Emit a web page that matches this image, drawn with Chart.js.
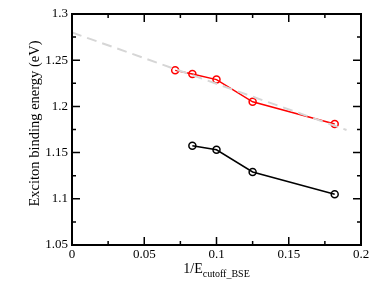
<!DOCTYPE html>
<html>
<head>
<meta charset="utf-8">
<script src="https://cdn.jsdelivr.net/npm/chart.js@4/dist/chart.umd.min.js"></script>
<style>
  html, body { margin: 0; padding: 0; background: #fff; }
  #wrap { width: 374px; height: 289px; }
</style>
</head>
<body>
<div id="wrap"><canvas id="c"></canvas></div>
<script>
// data
const redX = [0.0714, 0.0833, 0.1, 0.125, 0.1818];
const redY = [1.239, 1.235, 1.229, 1.205, 1.181];
const blackX = [0.0833, 0.1, 0.125, 0.1818];
const blackY = [1.1575, 1.153, 1.129, 1.105];
const fitX = [0, 0.19];
const fitY = [1.28, 1.1745];
const xTicks = [0, 0.05, 0.1, 0.15, 0.2];
const yTicks = [1.05, 1.1, 1.15, 1.2, 1.25, 1.3];

const serif = '"Liberation Serif", "DejaVu Serif", serif';
const toPts = (xs, ys) => xs.map((x, i) => ({ x: x, y: ys[i] }));

// frame, inward major/minor ticks and axis titles
const framePlugin = {
  id: 'frame',
  afterDatasetsDraw(chart) {
    const { ctx, chartArea: a, scales } = chart;
    const xs = scales.x, ys = scales.y;
    ctx.save();
    ctx.strokeStyle = '#000';
    ctx.lineWidth = 2;
    ctx.strokeRect(a.left, a.top, a.right - a.left, a.bottom - a.top);
    ctx.lineWidth = 1.5;
    ctx.beginPath();
    for (let v = 0; v <= 0.2001; v += 0.025) {
      const px = xs.getPixelForValue(v);
      const len = Math.abs(v / 0.05 - Math.round(v / 0.05)) < 1e-6 ? 8 : 4;
      ctx.moveTo(px, a.bottom); ctx.lineTo(px, a.bottom - len);
      ctx.moveTo(px, a.top); ctx.lineTo(px, a.top + len);
    }
    for (let v = 1.05; v <= 1.3001; v += 0.025) {
      const py = ys.getPixelForValue(v);
      const k = (v - 1.05) / 0.05;
      const len = Math.abs(k - Math.round(k)) < 1e-6 ? 8 : 4;
      ctx.moveTo(a.left, py); ctx.lineTo(a.left + len, py);
      ctx.moveTo(a.right, py); ctx.lineTo(a.right - len, py);
    }
    ctx.stroke();

    ctx.fillStyle = '#000';
    // y title
    ctx.save();
    ctx.translate(35, (a.top + a.bottom) / 2 - 6);
    ctx.rotate(-Math.PI / 2);
    ctx.font = '14.5px ' + serif;
    ctx.textAlign = 'center';
    ctx.textBaseline = 'middle';
    ctx.fillText('Exciton binding energy (eV)', 0, 0);
    ctx.restore();
    // x title with subscript
    ctx.font = '14px ' + serif;
    const main = '1/E';
    const sub = 'cutoff_BSE';
    const wMain = ctx.measureText(main).width;
    ctx.font = '10px ' + serif;
    const wSub = ctx.measureText(sub).width;
    const cx = (a.left + a.right) / 2;
    const x0 = cx - (wMain + wSub) / 2;
    ctx.textBaseline = 'alphabetic';
    ctx.textAlign = 'left';
    ctx.font = '14px ' + serif;
    ctx.fillText(main, x0, 273);
    ctx.font = '10px ' + serif;
    ctx.fillText(sub, x0 + wMain, 277);
    ctx.restore();
  }
};

new Chart(document.getElementById('c'), {
  type: 'scatter',
  data: {
    datasets: [
      {
        data: toPts(fitX, fitY),
        showLine: true,
        borderColor: '#d6d6d6',
        borderWidth: 2,
        borderDash: [10, 6],
        pointRadius: 0,
        order: 0
      },
      {
        data: toPts(redX, redY),
        showLine: true,
        borderColor: '#ff0000',
        borderWidth: 1.5,
        pointRadius: 3.5,
        pointBorderWidth: 1.5,
        pointBorderColor: '#ff0000',
        pointBackgroundColor: 'rgba(0,0,0,0)',
        order: 1
      },
      {
        data: toPts(blackX, blackY),
        showLine: true,
        borderColor: '#000000',
        borderWidth: 1.5,
        pointRadius: 3.5,
        pointBorderWidth: 1.5,
        pointBorderColor: '#000000',
        pointBackgroundColor: 'rgba(0,0,0,0)',
        order: 2
      }
    ]
  },
  options: {
    responsive: true,
    maintainAspectRatio: false,
    animation: false,
    layout: { padding: { top: 14, right: 13, left: 0, bottom: 0 } },
    plugins: { legend: { display: false }, tooltip: { enabled: false } },
    scales: {
      x: {
        type: 'linear',
        min: 0, max: 0.2,
        afterBuildTicks: s => { s.ticks = xTicks.map(v => ({ value: v })); },
        afterFit: s => { s.height = 44; },
        grid: { display: false, drawTicks: false },
        border: { display: false },
        ticks: {
          color: '#000',
          padding: 2,
          maxRotation: 0,
          font: { family: serif, size: 13 },
          callback: v => String(Math.round(v * 100) / 100)
        }
      },
      y: {
        type: 'linear',
        min: 1.05, max: 1.3,
        afterBuildTicks: s => { s.ticks = yTicks.map(v => ({ value: v })); },
        afterFit: s => { s.width = 72; },
        grid: { display: false, drawTicks: false },
        border: { display: false },
        ticks: {
          color: '#000',
          padding: 4,
          font: { family: serif, size: 13 },
          callback: v => String(Math.round(v * 100) / 100)
        }
      }
    }
  },
  plugins: [framePlugin]
});
</script>
</body>
</html>
